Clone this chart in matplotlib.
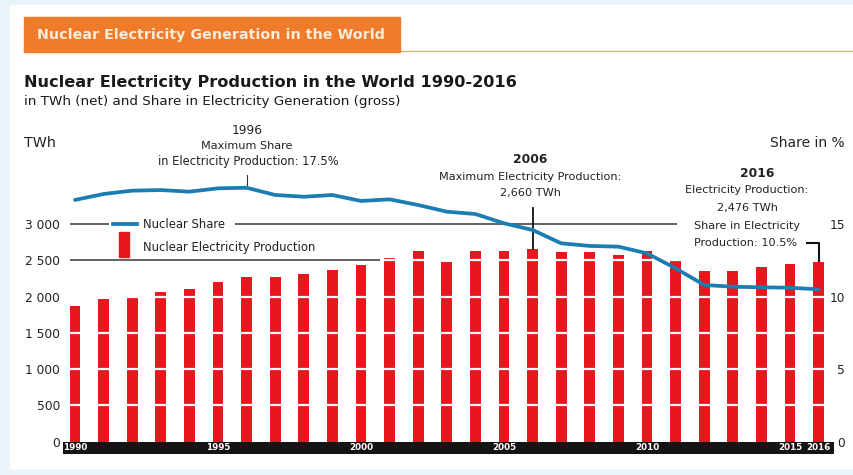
import matplotlib
matplotlib.use("Agg")
import matplotlib.pyplot as plt
from matplotlib.patches import Rectangle
from matplotlib.lines import Line2D

plt.rcParams['font.family'] = ['DejaVu Sans']

# data
years = list(range(1990, 2017))
production = [1874, 1967, 1998, 2063, 2100, 2197, 2270, 2270, 2307, 2362,
              2440, 2527, 2628, 2481, 2628, 2628, 2660, 2610, 2610, 2573,
              2628, 2518, 2352, 2352, 2403, 2445, 2476]
share = [16.66, 17.07, 17.30, 17.34, 17.23, 17.46, 17.5, 17.00, 16.88, 17.00,
         16.59, 16.70, 16.31, 15.85, 15.69, 15.05, 14.59, 13.67, 13.49, 13.44,
         12.98, 11.95, 10.80, 10.68, 10.64, 10.61, 10.5]
twh_ticks = [0, 500, 1000, 1500, 2000, 2500, 3000]
twh_labels = ['0', '500', '1 000', '1 500', '2 000', '2 500', '3 000']
share_ticks = [0, 5, 10, 15]
year_labels = [1990, 1995, 2000, 2005, 2010, 2015, 2016]

RED = '#e8171d'
BLUE = '#1a7db3'
GREY = '#555555'
ORANGE = '#f07c2b'
TXT = '#222222'

W, H = 854, 475


def fx(x):
    return x / W


def fy(y):
    return 1 - y / H


fig = plt.figure(figsize=(W / 100, H / 100), dpi=100, facecolor='#e9f4fa')
# white panel and header
fig.patches.append(Rectangle((fx(10), fy(468)), 1, (468 - 5) / H,
                             transform=fig.transFigure, color='white', zorder=-2))
fig.patches.append(Rectangle((fx(24), fy(52)), 376 / W, 35 / H,
                             transform=fig.transFigure, color=ORANGE, zorder=-1))
fig.lines.append(Line2D([fx(24), 1], [fy(51), fy(51)], transform=fig.transFigure,
                        color='#d2b77c', lw=1.0, zorder=-1))
fig.text(fx(37), fy(35), 'Nuclear Electricity Generation in the World', color='#fcebd9',
         fontsize=10.3, fontweight='bold', va='center', ha='left')
fig.text(fx(24), fy(83), 'Nuclear Electricity Production in the World 1990-2016',
         fontsize=11.6, fontweight='bold', va='center', ha='left', color='#1a1a1a')
fig.text(fx(24), fy(102), 'in TWh (net) and Share in Electricity Generation (gross)',
         fontsize=9.7, va='center', ha='left', color='#1a1a1a')
fig.text(fx(24), fy(143), 'TWh', fontsize=10.3, va='center', ha='left', color=TXT)
fig.text(fx(845), fy(143), 'Share in %', fontsize=10, va='center', ha='right', color=TXT)

# main axes
y0, ytop = 441.7, 120
px_per_twh = 72.56 / 1000
ymax = (y0 - ytop) / px_per_twh
ax = fig.add_axes([fx(63), fy(y0), (834 - 63) / W, (y0 - ytop) / H])
ax.patch.set_visible(False)
xmin, xmax = 1989.58, 2016.54
ax.set_xlim(xmin, xmax)
ax.set_ylim(0, ymax)
for s in ax.spines.values():
    s.set_visible(False)
ax.set_xticks([])
ax.set_yticks(twh_ticks)
ax.set_yticklabels(twh_labels)
ax.tick_params(axis='y', length=0, pad=2, labelsize=8.8, labelcolor=TXT)

ax.bar(years, production, width=0.38, color=RED, zorder=2)
ax.hlines(twh_ticks[1:-1], xmin, xmax, color='white', lw=1.6, zorder=3)
ax.hlines(2500, 1989.83, 2000.66, color=GREY, lw=1.3, zorder=4)
ax.hlines(3000, 1989.83, 1991.2, color=GREY, lw=1.3, zorder=4)
ax.hlines(3000, 1995.6, 2011.05, color=GREY, lw=1.3, zorder=4)

# pointer lines for 2006 and 2016
i06, i16 = years.index(2006), years.index(2016)
ax.plot([2006, 2006], [production[i06], production[i06] + 565], color='#111111', lw=1.3, zorder=4)
ax.plot([2016, 2016, 2015.55], [production[i16], production[i16] + 265, production[i16] + 265],
        color='#111111', lw=1.5, zorder=4, solid_capstyle='butt')

ax2 = ax.twinx()
ax2.set_ylim(0, ymax / 200)
for s in ax2.spines.values():
    s.set_visible(False)
ax2.set_yticks(share_ticks)
ax2.tick_params(axis='y', length=0, pad=8, labelsize=8.8, labelcolor=TXT)
for lbl in ax2.get_yticklabels():
    lbl.set_horizontalalignment('right')
ax2.plot(years, share, color=BLUE, lw=2.7, solid_capstyle='round', solid_joinstyle='round', zorder=5)
i96 = years.index(1996)
ax2.plot([1996, 1996], [share[i96] + 0.1, share[i96] + 0.85], color='#333333', lw=0.8)

# legend
fig.lines.append(Line2D([fx(113), fx(137)], [fy(224), fy(224)], transform=fig.transFigure,
                        color=BLUE, lw=2.7))
fig.patches.append(Rectangle((fx(119), fy(257)), 10 / W, 25 / H, transform=fig.transFigure,
                             color=RED))
fig.text(fx(143), fy(224), 'Nuclear Share', fontsize=8.4, va='center', ha='left', color=TXT)
fig.text(fx(143), fy(248), 'Nuclear Electricity Production', fontsize=8.4, va='center',
         ha='left', color=TXT)

# annotations
fs = 8.1
fig.text(fx(247), fy(130), '1996', fontsize=8.8, ha='center', va='center', color=TXT)
fig.text(fx(247), fy(146), 'Maximum Share', fontsize=fs, ha='center', va='center', color=TXT)
fig.text(fx(248), fy(162), 'in Electricity Production: 17.5%', fontsize=8.3, ha='center',
         va='center', color=TXT)
fig.text(fx(530), fy(160), '2006', fontsize=8.8, fontweight='bold', ha='center', va='center',
         color=TXT)
fig.text(fx(530), fy(177), 'Maximum Electricity Production:', fontsize=fs, ha='center',
         va='center', color=TXT)
fig.text(fx(530), fy(193), '2,660 TWh', fontsize=fs, ha='center', va='center', color=TXT)
fig.text(fx(757), fy(174), '2016', fontsize=8.8, fontweight='bold', ha='center', va='center',
         color=TXT)
fig.text(fx(747), fy(190), 'Electricity Production:', fontsize=fs, ha='center', va='center',
         color=TXT)
fig.text(fx(747), fy(208), '2,476 TWh', fontsize=fs, ha='center', va='center', color=TXT)
fig.text(fx(694), fy(226), 'Share in Electricity', fontsize=fs, ha='left', va='center',
         color=TXT)
fig.text(fx(694), fy(243), 'Production: 10.5%', fontsize=fs, ha='left', va='center',
         color=TXT)

# black year band under the bars
band = fig.add_axes([fx(63), fy(454), (834 - 63) / W, 12.3 / H])
band.set_facecolor('#141414')
band.set_xlim(xmin, xmax)
band.set_ylim(0, 1)
band.set_xticks([])
band.set_yticks([])
for s in band.spines.values():
    s.set_visible(False)
for y in year_labels:
    band.text(y, 0.5, str(y), color='white', fontsize=6.3, fontweight='bold',
              ha='center', va='center')

fig.savefig('out.png', dpi=100, facecolor=fig.get_facecolor())
